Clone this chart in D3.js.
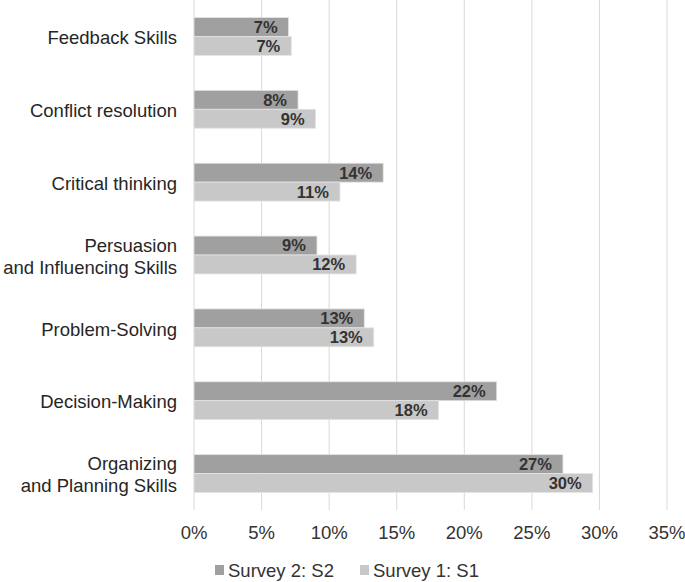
<!DOCTYPE html>
<html>
<head>
<meta charset="utf-8">
<script src="https://cdn.jsdelivr.net/npm/d3@7/dist/d3.min.js"></script>
<style>
  body { margin: 0; background: #fff; }
  text { font-family: "Liberation Sans", Arial, sans-serif; }
</style>
</head>
<body>
<svg id="chart" width="685" height="582"></svg>
<script>
// skill categories, top to bottom
const categories = [
  'Feedback Skills',
  'Conflict resolution',
  'Critical thinking',
  'Persuasion\nand Influencing Skills',
  'Problem-Solving',
  'Decision-Making',
  'Organizing\nand Planning Skills'
];
const seriesNames = ['Survey 2: S2', 'Survey 1: S1'];
const s2Values = [7.0, 7.7, 14.0, 9.1, 12.6, 22.4, 27.3];
const s1Values = [7.2, 9.0, 10.8, 12.0, 13.3, 18.1, 29.5];
const s2Labels = ['7%', '8%', '14%', '9%', '13%', '22%', '27%'];
const s1Labels = ['7%', '9%', '11%', '12%', '13%', '18%', '30%'];
const xTicks = [0, 5, 10, 15, 20, 25, 30, 35];

const colors = ['#a0a0a0', '#c8c8c8'];

const svg = d3.select('#chart');
const margin = {left: 194, right: 18, top: 0, bottom: 72};
const width = 685, height = 582;

const x = d3.scaleLinear().domain([0, 35]).range([margin.left, width - margin.right]);
const y = d3.scaleBand().domain(categories).range([margin.top, height - margin.bottom]).paddingInner(0.48).paddingOuter(0.24);
const inner = d3.scaleBand().domain(seriesNames).range([0, y.bandwidth()]);

// gridlines
svg.append('g')
  .selectAll('line')
  .data(xTicks)
  .join('line')
  .attr('x1', d => x(d)).attr('x2', d => x(d))
  .attr('y1', margin.top).attr('y2', height - margin.bottom)
  .attr('stroke', '#d9d9d9')
  .attr('stroke-width', 1);

const rows = categories.map((c, i) => ({
  cat: c,
  vals: [
    {s: seriesNames[0], v: s2Values[i], l: s2Labels[i], c: colors[0]},
    {s: seriesNames[1], v: s1Values[i], l: s1Labels[i], c: colors[1]}
  ]
}));

const grp = svg.append('g')
  .selectAll('g')
  .data(rows)
  .join('g')
  .attr('transform', d => `translate(0,${y(d.cat)})`);

grp.selectAll('rect')
  .data(d => d.vals)
  .join('rect')
  .attr('x', x(0))
  .attr('y', d => inner(d.s))
  .attr('width', d => x(d.v) - x(0))
  .attr('height', inner.bandwidth())
  .attr('fill', d => d.c)
  .attr('stroke', '#e4e4e4')
  .attr('stroke-width', 0.8);

grp.selectAll('text.val')
  .data(d => d.vals)
  .join('text')
  .attr('class', 'val')
  .attr('x', d => x(d.v) - 11)
  .attr('y', d => inner(d.s) + inner.bandwidth() / 2)
  .attr('dy', '0.36em')
  .attr('text-anchor', 'end')
  .attr('font-size', 16.5)
  .attr('font-weight', 'bold')
  .attr('fill', '#333')
  .text(d => d.l);

// category labels
const catLabels = svg.append('g')
  .selectAll('text')
  .data(categories)
  .join('text')
  .attr('text-anchor', 'end')
  .attr('font-size', 18.5)
  .attr('fill', '#262626')
  .attr('transform', d => `translate(177,${y(d) + y.bandwidth() / 2 + 1})`);

catLabels.each(function(d) {
  const lines = d.split('\n');
  const t = d3.select(this);
  lines.forEach((ln, k) => {
    t.append('tspan')
      .attr('x', 0)
      .attr('y', (k - (lines.length - 1) / 2) * 22)
      .attr('dy', '0.36em')
      .text(ln);
  });
});

// x axis labels
svg.append('g')
  .selectAll('text')
  .data(xTicks)
  .join('text')
  .attr('x', d => x(d))
  .attr('y', 532)
  .attr('dy', '0.36em')
  .attr('text-anchor', 'middle')
  .attr('font-size', 18.5)
  .attr('fill', '#333')
  .text(d => d + '%');

// legend
const legX = [215, 360];
const leg = svg.append('g')
  .selectAll('g')
  .data(seriesNames)
  .join('g')
  .attr('transform', (d, i) => `translate(${legX[i]},570)`);
leg.append('rect')
  .attr('x', 0).attr('y', -5)
  .attr('width', 9).attr('height', 10)
  .attr('fill', (d, i) => colors[i]);
leg.append('text')
  .attr('x', 13)
  .attr('dy', '0.36em')
  .attr('font-size', 18.5)
  .attr('fill', '#333')
  .text(d => d);
</script>
</body>
</html>
